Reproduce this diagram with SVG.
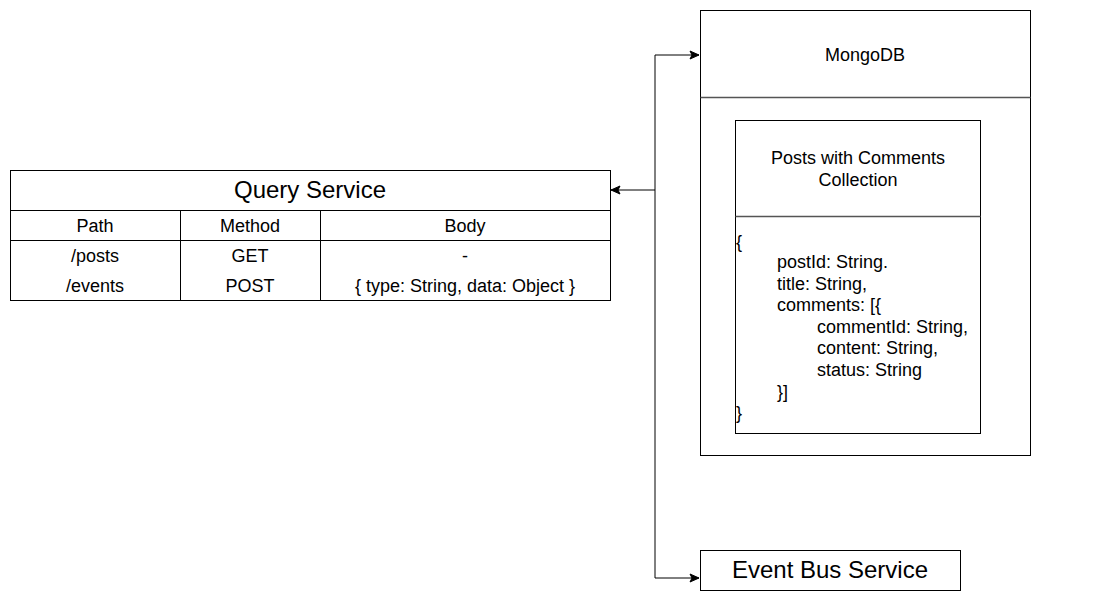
<svg xmlns="http://www.w3.org/2000/svg" width="1101" height="601" viewBox="0 0 1101 601">
<style>
text{font-family:"Liberation Sans",Arial,sans-serif;fill:#000}
.box{fill:#fff;stroke:#000;stroke-width:1}
.ln{stroke:#000;stroke-width:1;fill:none}
.dv{stroke:#555;stroke-width:1.5;fill:none}
.c{text-anchor:middle}
.t{font-size:18px}
.b{font-size:18px}
.big{font-size:24px}
</style>
<defs>
<marker id="ah" markerUnits="userSpaceOnUse" markerWidth="12" markerHeight="12" viewBox="0 0 12 12" refX="10" refY="6" orient="auto-start-reverse">
<path d="M1,2 L10,6 L1,10 L3,6 Z" fill="#000" stroke="#000" stroke-width="1"/>
</marker>
</defs>
<rect width="1101" height="601" fill="#fff"/>
<g id="connectors">
<path class="ln" d="M611,190 H655 V55 H699" marker-start="url(#ah)" marker-end="url(#ah)"/>
<path class="ln" d="M655,190 V578 H699" marker-end="url(#ah)"/>
</g>
<g id="query-service">
<rect class="box" x="10.5" y="170.5" width="600" height="130"/>
<line class="ln" x1="10.5" y1="210.5" x2="610.5" y2="210.5"/>
<line class="ln" x1="10.5" y1="240.5" x2="610.5" y2="240.5"/>
<line class="ln" x1="180.5" y1="210.5" x2="180.5" y2="300.5"/>
<line class="ln" x1="320.5" y1="210.5" x2="320.5" y2="300.5"/>
<text class="c big" x="310" y="198">Query Service</text>
<text class="c t" x="95" y="232">Path</text>
<text class="c t" x="250" y="232">Method</text>
<text class="c t" x="465" y="232">Body</text>
<text class="c t" x="95" y="262">/posts</text>
<text class="c t" x="250" y="262">GET</text>
<text class="c t" x="465" y="262">-</text>
<text class="c t" x="95" y="292">/events</text>
<text class="c t" x="250" y="292">POST</text>
<text class="c t" x="465" y="292">{ type: String, data: Object }</text>
</g>
<g id="mongodb">
<rect class="box" x="700.5" y="10.5" width="330" height="445"/>
<line class="dv" x1="700.5" y1="97.5" x2="1030.5" y2="97.5"/>
<text class="c b" x="865" y="61">MongoDB</text>
</g>
<g id="posts-collection">
<rect class="box" x="735.5" y="120.5" width="245" height="313"/>
<line class="dv" x1="735.5" y1="216.5" x2="980.5" y2="216.5"/>
<text class="c b" x="858" y="164">Posts with Comments</text>
<text class="c b" x="858" y="186">Collection</text>
<text class="b" x="736" y="248">{</text>
<text class="b" x="777" y="268">postId: String.</text>
<text class="b" x="777" y="290">title: String,</text>
<text class="b" x="777" y="311">comments: [{</text>
<text class="b" x="817" y="333">commentId: String,</text>
<text class="b" x="817" y="354">content: String,</text>
<text class="b" x="817" y="376">status: String</text>
<text class="b" x="777" y="398">}]</text>
<text class="b" x="736" y="419">}</text>
</g>
<g id="event-bus">
<rect class="box" x="700.5" y="550.5" width="260" height="40"/>
<text class="c big" x="830" y="578">Event Bus Service</text>
</g>
</svg>
